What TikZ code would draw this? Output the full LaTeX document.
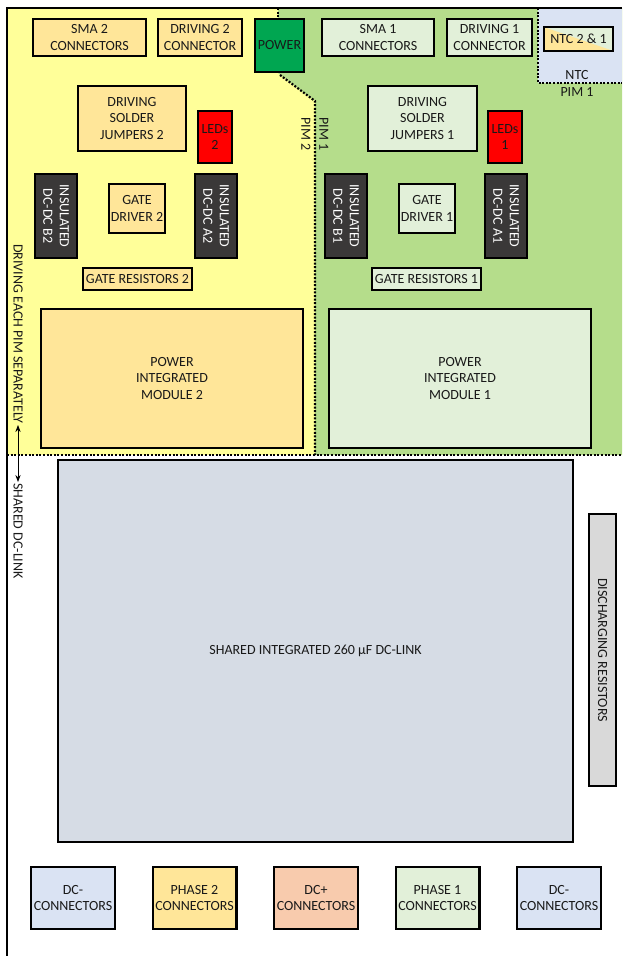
\documentclass[tikz,border=0pt]{standalone}
\usepackage{fontspec}
\setmainfont{Carlito}
\usepackage{tikz}
\usetikzlibrary{arrows.meta}
\definecolor{pimyellow}{RGB}{255,255,153}
\definecolor{pimgreen}{RGB}{181,221,139}
\definecolor{ntcblue}{RGB}{218,227,243}
\definecolor{boxorange}{RGB}{255,230,153}
\definecolor{boxgreen}{RGB}{226,240,217}
\definecolor{linkblue}{RGB}{214,220,229}
\definecolor{dcpink}{RGB}{248,203,173}
\definecolor{resgray}{RGB}{217,217,217}
\definecolor{dcdark}{RGB}{58,56,56}
\definecolor{powgreen}{RGB}{0,166,81}

\begin{document}
\begin{tikzpicture}[x=1pt, y=-1pt, font=\fontsize{14}{16.5}\selectfont,
  part/.style={draw=black, line width=2.4pt, align=center, inner sep=1pt, text=black!90},
  sz/.style 2 args={minimum width=#1, minimum height=#2},
  dcdc/.style={part, fill=dcdark, text=white, rotate=-90, sz={83.6}{41.6}},
  pimline/.style={line width=2.2pt, dash pattern=on 2pt off 1.6pt},
  tag/.style={inner sep=1pt, text=black!90}]
\useasboundingbox (0,0) rectangle (622,956);
% board areas of the two PIMs
\fill[pimyellow] (7,8) rectangle (622,455);
\fill[pimgreen] (278,8) -- (622,8) -- (622,455) -- (315,455) -- (315,101) -- (280,75) -- (278,73) -- cycle;
\fill[ntcblue] (538,8) rectangle (622,83);
\draw[pimline] (278,8) -- (278,20);
\draw[pimline] (280,75) -- (315,101) -- (315,455);
\draw[pimline] (538,8) -- (538,83) -- (622,83);
\draw[pimline] (7,455) -- (622,455);
\draw[line width=2.6pt] (7,956) -- (7,8) -- (622,8);

% top row
\node[part, fill=boxorange, sz={112.6}{36.6}] (sma2) at (89.5,37.5) {SMA 2\\CONNECTORS};
\node[part, fill=boxorange, sz={84}{36.6}] (drv2) at (200,37.5) {DRIVING 2\\CONNECTOR};
\node[part, fill=powgreen, sz={49}{53}] (power) at (279.5,45.5) {POWER};
\node[part, fill=boxgreen, sz={112}{36.6}] (sma1) at (378,37.5) {SMA 1\\CONNECTORS};
\node[part, fill=boxgreen, sz={84.6}{36.6}] (drv1) at (489.5,37.5) {DRIVING 1\\CONNECTOR};
\node[part, fill=boxgreen, sz={68.6}{23.6},
  path picture={\fill[boxorange] (path picture bounding box.north west) -- (path picture bounding box.south east) -- (path picture bounding box.south west) -- cycle;}]
  (ntc) at (578.5,39) {NTC 2 \& 1};
\node[tag] (ntclbl) at (577,75) {NTC};
\node[tag] (ntcpim) at (577,92) {PIM 1};

% PIM 2 side
\node[part, fill=boxorange, sz={107.6}{64.6}] (jump2) at (132,118.5) {DRIVING\\SOLDER\\JUMPERS 2};
\node[part, fill=red, sz={33.6}{51.6}] (led2) at (215,137) {LEDs\\2};
\node[dcdc] (dcb2) at (56,216) {INSULATED\\DC-DC B2};
\node[part, fill=boxorange, sz={55.6}{48.6}] (gd2) at (137,208.5) {GATE\\DRIVER 2};
\node[dcdc] (dca2) at (216,216) {INSULATED\\DC-DC A2};
\node[part, fill=boxorange, sz={108.6}{21.6}] (gr2) at (137.5,279) {GATE RESISTORS 2};
\node[part, fill=boxorange, sz={261.6}{138.6}] (pim2) at (172,378.5) {POWER\\INTEGRATED\\MODULE 2};

% PIM 1 side
\node[part, fill=boxgreen, sz={108.6}{64.6}] (jump1) at (422.5,118.5) {DRIVING\\SOLDER\\JUMPERS 1};
\node[part, fill=red, sz={33.6}{51.6}] (led1) at (505,137) {LEDs\\1};
\node[dcdc] (dcb1) at (346,216) {INSULATED\\DC-DC B1};
\node[part, fill=boxgreen, sz={55.6}{48.6}] (gd1) at (427,208.5) {GATE\\DRIVER 1};
\node[dcdc] (dca1) at (506,216) {INSULATED\\DC-DC A1};
\node[part, fill=boxgreen, sz={108.6}{21.6}] (gr1) at (426.5,279) {GATE RESISTORS 1};
\node[part, fill=boxgreen, sz={261.6}{138.6}] (pim1) at (460,378.5) {POWER\\INTEGRATED\\MODULE 1};

\node[tag, rotate=-90] (pim2lbl) at (306,134) {PIM 2};
\node[tag, rotate=-90] (pim1lbl) at (324,134) {PIM 1};

% shared part
\node[part, fill=linkblue, sz={514.6}{381.6}] (dclink) at (315.5,651) {SHARED INTEGRATED 260 µF DC-LINK};
\node[part, fill=resgray, rotate=-90, sz={271.6}{26.6}] (disch) at (602.5,650) {DISCHARGING RESISTORS};

% connectors at the bottom
\node[part, fill=ntcblue, sz={83.6}{61.6}] (dcm2) at (73,898) {DC-\\CONNECTORS};
\node[part, fill=boxorange, sz={83.6}{61.6}] (ph2) at (194.5,898) {PHASE 2\\CONNECTORS};
\node[part, fill=dcpink, sz={83.6}{61.6}] (dcp) at (316,898) {DC+\\CONNECTORS};
\node[part, fill=boxgreen, sz={83.6}{61.6}] (ph1) at (437.5,898) {PHASE 1\\CONNECTORS};
\node[part, fill=ntcblue, sz={83.6}{61.6}] (dcm1) at (559,898) {DC-\\CONNECTORS};

% left side note
\node[tag, rotate=-90] (drive) at (18,334) {DRIVING EACH PIM SEPARATELY};
\node[tag, rotate=-90] (shared) at (18,531) {SHARED DC-LINK};
\draw[{Stealth}-{Stealth}, line width=0.9pt] (drive.east) -- (shared.west);
\end{tikzpicture}
\end{document}
